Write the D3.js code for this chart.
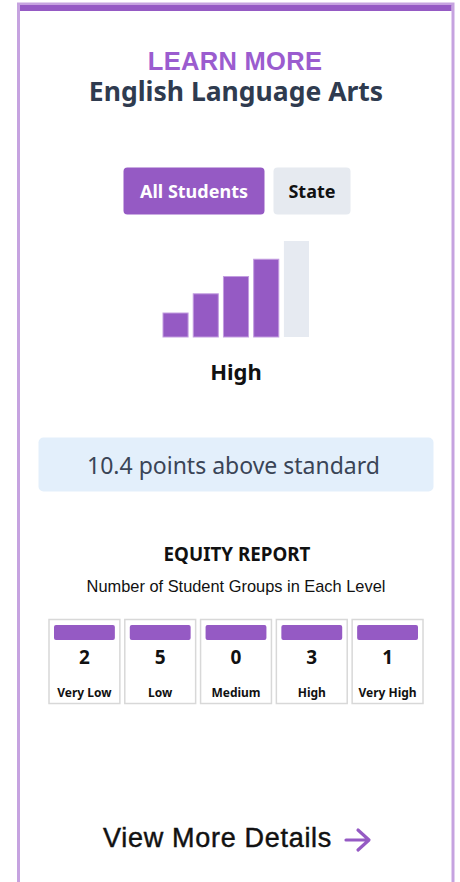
<!DOCTYPE html>
<html>
<head>
<meta charset="utf-8">
<script src="https://cdn.jsdelivr.net/npm/d3@7"></script>
<style>
  body { margin: 0; background: #fff; }
  svg { display: block; }
</style>
</head>
<body>
<svg width="460" height="882"></svg>
<script>
// data
var levels = ["Very Low", "Low", "Medium", "High", "Very High"];
var meterHeights = [25, 45, 63, 81, 100];   // hoogte van de niveau-balkjes (0-100)
var currentLevel = "High";
var groupCounts = [2, 5, 0, 3, 1];
var toggles = ["All Students", "State"];
var statusText = "10.4 points above standard";

var purple = "#955ac4",
    segoe = "'Noto Sans', 'Open Sans', sans-serif",
    helv = "'Liberation Sans', Arial, sans-serif";

var svg = d3.select("svg"),
    width = +svg.attr("width"),
    height = +svg.attr("height");

// kaart rand
svg.append("rect")
    .attr("x", 18.5).attr("y", 4)
    .attr("width", 434.5).attr("height", height + 10)
    .attr("fill", "none")
    .attr("stroke", "#c6a3e0")
    .attr("stroke-width", 3);
svg.append("rect")
    .attr("x", 20).attr("y", 5)
    .attr("width", 431.5).attr("height", 6)
    .attr("fill", purple);

var cx = 235;

// titels
svg.append("text")
    .attr("x", cx).attr("y", 70)
    .attr("text-anchor", "middle")
    .style("font-family", helv).style("font-weight", "bold").style("font-size", "25.5px")
    .style("letter-spacing", "0.3px")
    .attr("fill", "#9b5ccf")
    .text("LEARN MORE");
svg.append("text")
    .attr("x", 236).attr("y", 101)
    .attr("text-anchor", "middle")
    .style("font-family", segoe).style("font-weight", "bold").style("font-size", "26.5px")
    .attr("fill", "#2f3b4f")
    .text("English Language Arts");

// knoppen
var btnX = [123.5, 273.5], btnW = [141, 77];
var btn = svg.selectAll(".btn")
    .data(toggles)
    .enter().append("g")
    .attr("class", "btn");
btn.append("rect")
    .attr("x", function (d, i) { return btnX[i]; })
    .attr("y", 167.5)
    .attr("width", function (d, i) { return btnW[i]; })
    .attr("height", 47)
    .attr("rx", 4)
    .attr("fill", function (d, i) { return i === 0 ? purple : "#e6eaf0"; });
btn.append("text")
    .attr("x", function (d, i) { return btnX[i] + btnW[i] / 2; })
    .attr("y", 198)
    .attr("text-anchor", "middle")
    .style("font-family", segoe).style("font-weight", "bold").style("font-size", "18px")
    .attr("fill", function (d, i) { return i === 0 ? "#fff" : "#111"; })
    .text(function (d) { return d; });

// niveau meter
var x = d3.scaleBand().domain(levels).range([163, 309]).paddingInner(0.17),
    y = d3.scaleLinear().domain([0, 100]).range([337, 241]);
var cur = levels.indexOf(currentLevel);

svg.selectAll(".bar")
    .data(meterHeights)
    .enter().append("rect")
    .attr("class", "bar")
    .attr("x", function (d, i) { return x(levels[i]); })
    .attr("y", function (d) { return y(d); })
    .attr("width", x.bandwidth())
    .attr("height", function (d) { return y(0) - y(d); })
    .attr("fill", function (d, i) { return i <= cur ? purple : "#e6eaf1"; })
    .attr("stroke", function (d, i) { return i <= cur ? "#c39de0" : "none"; })
    .attr("stroke-width", 1);

svg.append("text")
    .attr("x", 236).attr("y", 380)
    .attr("text-anchor", "middle")
    .style("font-family", segoe).style("font-weight", "bold").style("font-size", "22px")
    .attr("fill", "#111")
    .text(currentLevel);

// status blok
svg.append("rect")
    .attr("x", 38.5).attr("y", 437.5)
    .attr("width", 395).attr("height", 54)
    .attr("rx", 5)
    .attr("fill", "#e3effb");
svg.append("text")
    .attr("x", 233.5).attr("y", 474)
    .attr("text-anchor", "middle")
    .style("font-family", segoe).style("font-size", "23px")
    .attr("fill", "#3a4456")
    .text(statusText);

// equity report
svg.append("text")
    .attr("x", 237).attr("y", 561)
    .attr("text-anchor", "middle")
    .style("font-family", segoe).style("font-weight", "bold").style("font-size", "18.8px")
    .attr("fill", "#111")
    .text("EQUITY REPORT");
svg.append("text")
    .attr("x", 236).attr("y", 592)
    .attr("text-anchor", "middle")
    .style("font-family", helv).style("font-size", "16.4px")
    .attr("fill", "#111")
    .text("Number of Student Groups in Each Level");

var bx = d3.scaleBand().domain(levels).range([49, 423]).paddingInner(0.065);

var box = svg.selectAll(".box")
    .data(groupCounts)
    .enter().append("g")
    .attr("class", "box")
    .attr("transform", function (d, i) { return "translate(" + bx(levels[i]) + ",619.5)"; });
box.append("rect")
    .attr("width", bx.bandwidth())
    .attr("height", 84)
    .attr("fill", "#fff")
    .attr("stroke", "#d8d8d8")
    .attr("stroke-width", 1.5);
box.append("rect")
    .attr("x", 5).attr("y", 5.5)
    .attr("width", bx.bandwidth() - 10)
    .attr("height", 15)
    .attr("rx", 2)
    .attr("fill", purple);
box.append("text")
    .attr("x", bx.bandwidth() / 2).attr("y", 44)
    .attr("text-anchor", "middle")
    .style("font-family", segoe).style("font-weight", "bold").style("font-size", "19px")
    .attr("fill", "#111")
    .text(function (d) { return d; });
box.append("text")
    .attr("x", bx.bandwidth() / 2).attr("y", 77)
    .attr("text-anchor", "middle")
    .style("font-family", segoe).style("font-weight", "bold").style("font-size", "12px")
    .attr("fill", "#111")
    .text(function (d, i) { return levels[i]; });

// link onderaan
svg.append("text")
    .attr("x", 103).attr("y", 847)
    .style("font-family", helv).style("font-size", "27px")
    .style("letter-spacing", "0.7px")
    .attr("fill", "#111")
    .attr("stroke", "#111")
    .attr("stroke-width", 0.45)
    .text("View More Details");
svg.append("path")
    .attr("d", "M346,840H368M358,830L369,840L358,850")
    .attr("fill", "none")
    .attr("stroke", purple)
    .attr("stroke-width", 3.2)
    .attr("stroke-linecap", "round")
    .attr("stroke-linejoin", "round");
</script>
</body>
</html>
